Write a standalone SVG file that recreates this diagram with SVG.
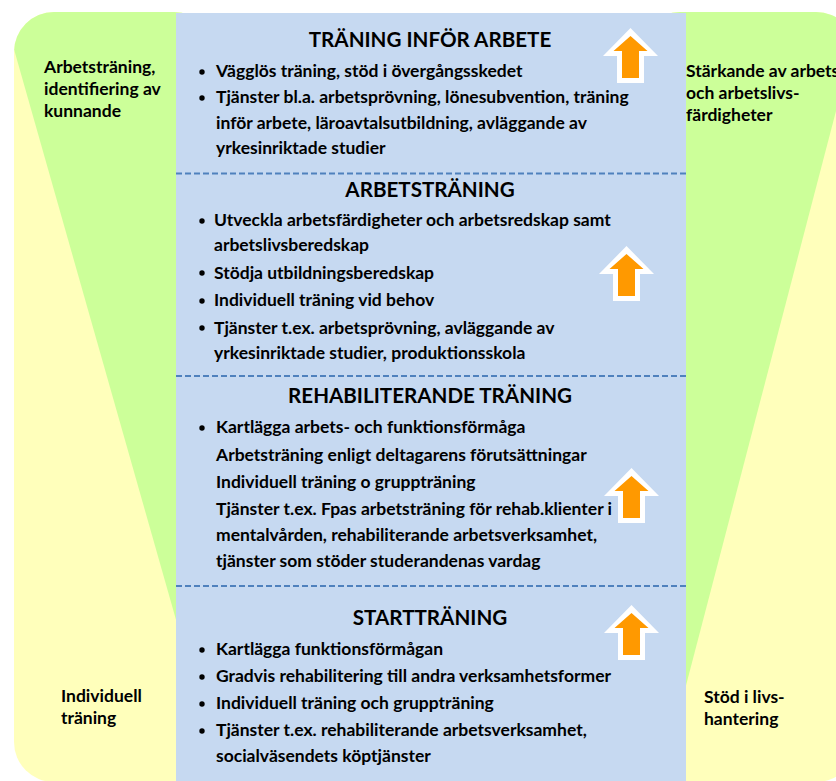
<svg xmlns="http://www.w3.org/2000/svg" xmlns:xlink="http://www.w3.org/1999/xlink" width="836" height="781" viewBox="0 0 836 781">
<style>
.t{font-family:Lato,"Liberation Sans",sans-serif;font-weight:bold;fill:#000}
.b{font-size:17.5px}
.h{font-size:20.6px;text-anchor:middle}
.s{font-size:17.5px}
.dash{stroke:#4f81bd;stroke-width:2;stroke-dasharray:6 3;fill:none}
.dot{fill:#000}
</style>
<defs>
<clipPath id="cl"><rect x="14" y="12" width="200" height="770" rx="40"/></clipPath>
<clipPath id="cr"><rect x="640" y="12" width="216" height="770" rx="40"/></clipPath>
<g id="arrow">
<polygon points="0,0 27.5,28 13.5,28 13.5,55 -13.5,55 -13.5,28 -27.5,28" fill="#fff"/>
<polygon points="0,8 17,23 8.5,23 8.5,50 -8.5,50 -8.5,23 -17,23" fill="#ff9900"/>
</g>
</defs>
<rect width="836" height="781" fill="#fff"/>
<g id="left-panel">
<rect x="14" y="12" width="200" height="770" rx="40" fill="#ffffbb"/>
<polygon points="0,0 300,0 300,900 255.6,900" fill="#ccff99" clip-path="url(#cl)"/>
<text class="t s" x="44" y="73">Arbetsträning,</text>
<text class="t s" x="44" y="95">identifiering av</text>
<text class="t s" x="44" y="117">kunnande</text>
<text class="t s" x="61" y="702">Individuell</text>
<text class="t s" x="61" y="724">träning</text>
</g>
<g id="right-panel">
<rect x="640" y="12" width="216" height="770" rx="40" fill="#ffffbb"/>
<polygon points="600,0 865,0 630,900 600,900" fill="#ccff99" clip-path="url(#cr)"/>
<text class="t s" x="686" y="77">Stärkande av arbets</text>
<text class="t s" x="686" y="99">och arbetslivs-</text>
<text class="t s" x="686" y="121">färdigheter</text>
<text class="t s" x="704" y="703">Stöd i livs-</text>
<text class="t s" x="704" y="725">hantering</text>
</g>
<rect x="176" y="13" width="510" height="770" fill="#c6d9f1"/>
<g id="connectors">
<line class="dash" x1="176" y1="173.5" x2="686" y2="173.5"/>
<line class="dash" x1="176" y1="376" x2="686" y2="376"/>
<line class="dash" x1="176" y1="586" x2="686" y2="586"/>
</g>
<g id="arrows">
<use xlink:href="#arrow" transform="translate(630.5,28)"/>
<use xlink:href="#arrow" transform="translate(626.5,246)"/>
<use xlink:href="#arrow" transform="translate(631.5,468)"/>
<use xlink:href="#arrow" transform="translate(631.5,605)"/>
</g>
<g id="sec-trainf">
<text class="t h" x="430" y="47">TRÄNING INFÖR ARBETE</text>
<circle class="dot" cx="202" cy="72" r="2.7"/>
<circle class="dot" cx="202" cy="98" r="2.7"/>
<text class="t b" x="216" y="77">Vägglös träning, stöd i övergångsskedet</text>
<text class="t b" x="216" y="103">Tjänster bl.a. arbetsprövning, lönesubvention, träning</text>
<text class="t b" x="216" y="129">inför arbete, läroavtalsutbildning, avläggande av</text>
<text class="t b" x="216" y="154">yrkesinriktade studier</text>
</g>
<g id="sec-arbets">
<text class="t h" x="430" y="197">ARBETSTRÄNING</text>
<circle class="dot" cx="202" cy="221" r="2.7"/>
<circle class="dot" cx="202" cy="273" r="2.7"/>
<circle class="dot" cx="202" cy="301" r="2.7"/>
<circle class="dot" cx="202" cy="328" r="2.7"/>
<text class="t b" x="214" y="226">Utveckla arbetsfärdigheter och arbetsredskap samt</text>
<text class="t b" x="214" y="251">arbetslivsberedskap</text>
<text class="t b" x="214" y="279">Stödja utbildningsberedskap</text>
<text class="t b" x="214" y="306">Individuell träning vid behov</text>
<text class="t b" x="214" y="334">Tjänster t.ex. arbetsprövning, avläggande av</text>
<text class="t b" x="214" y="359">yrkesinriktade studier, produktionsskola</text>
</g>
<g id="sec-rehab">
<text class="t h" x="430" y="403">REHABILITERANDE TRÄNING</text>
<circle class="dot" cx="202" cy="428" r="2.7"/>
<text class="t b" x="216" y="433">Kartlägga arbets- och funktionsförmåga</text>
<text class="t b" x="216" y="461">Arbetsträning enligt deltagarens förutsättningar</text>
<text class="t b" x="216" y="488">Individuell träning o gruppträning</text>
<text class="t b" x="216" y="515">Tjänster t.ex. Fpas arbetsträning för rehab.klienter i</text>
<text class="t b" x="216" y="541">mentalvården, rehabiliterande arbetsverksamhet,</text>
<text class="t b" x="216" y="567">tjänster som stöder studerandenas vardag</text>
</g>
<g id="sec-start">
<text class="t h" x="430" y="625">STARTTRÄNING</text>
<circle class="dot" cx="202" cy="650" r="2.7"/>
<circle class="dot" cx="202" cy="677" r="2.7"/>
<circle class="dot" cx="202" cy="704" r="2.7"/>
<circle class="dot" cx="202" cy="731" r="2.7"/>
<text class="t b" x="216" y="655">Kartlägga funktionsförmågan</text>
<text class="t b" x="216" y="682">Gradvis rehabilitering till andra verksamhetsformer</text>
<text class="t b" x="216" y="709">Individuell träning och gruppträning</text>
<text class="t b" x="216" y="736">Tjänster t.ex. rehabiliterande arbetsverksamhet,</text>
<text class="t b" x="216" y="762">socialväsendets köptjänster</text>
</g>
</svg>
